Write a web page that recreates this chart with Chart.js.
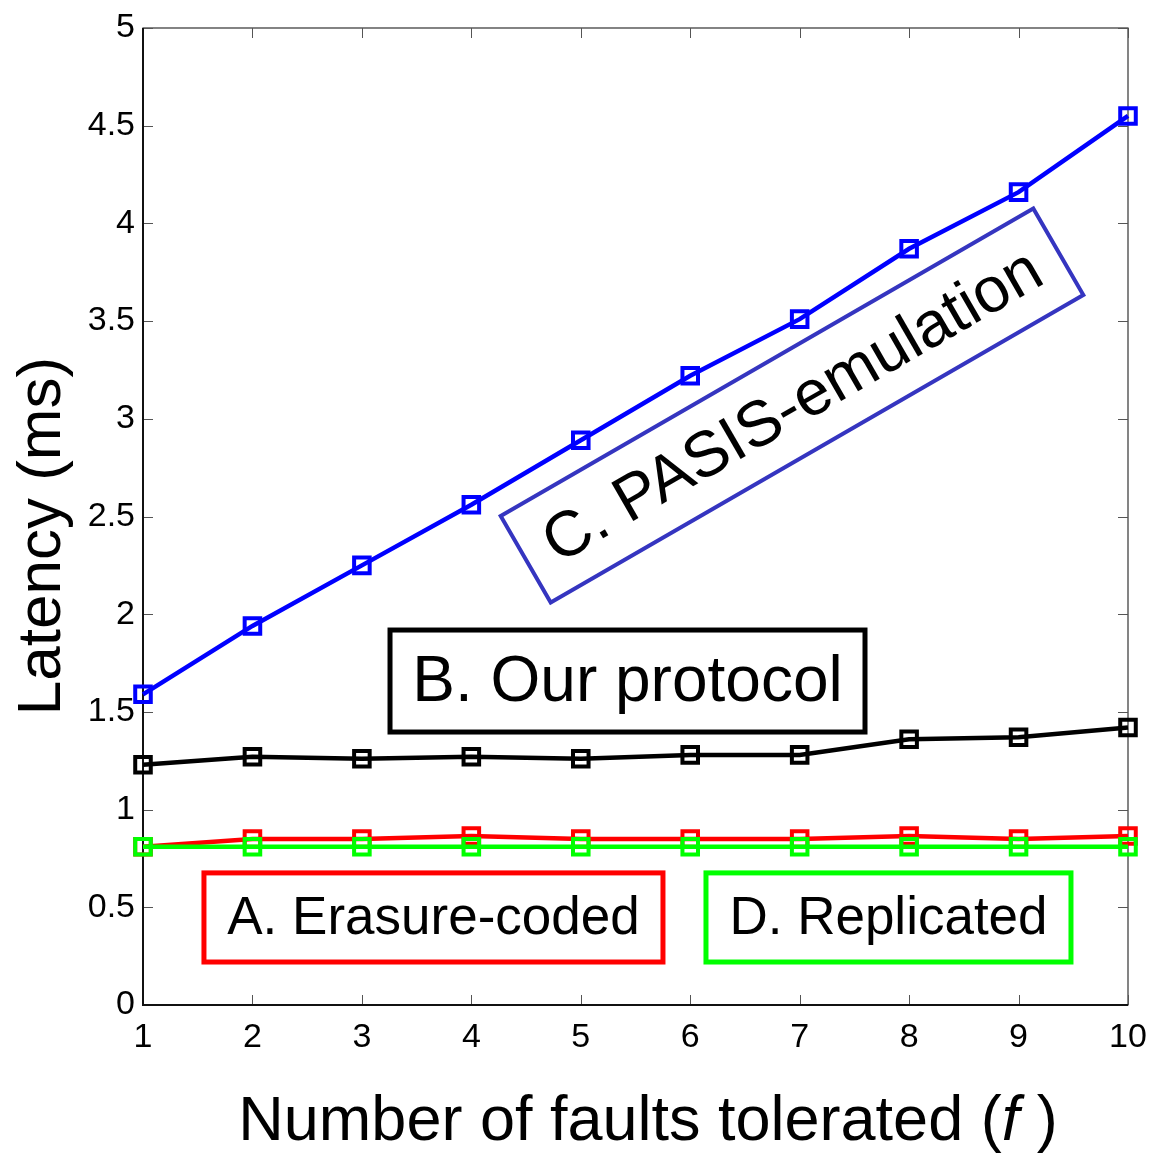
<!DOCTYPE html>
<html>
<head>
<meta charset="utf-8">
<script src="https://cdn.jsdelivr.net/npm/chart.js@4/dist/chart.umd.min.js"></script>
<style>
  html, body { margin: 0; padding: 0; background: #fff; }
  canvas { display: block; }
</style>
</head>
<body>
<canvas id="latencyChart" width="1150" height="1154"></canvas>
<script>
// number of faults tolerated (f)
const faults = [1, 2, 3, 4, 5, 6, 7, 8, 9, 10];

// latency in ms
const erasureCoded = [0.81, 0.85, 0.85, 0.865, 0.85, 0.85, 0.85, 0.865, 0.85, 0.865];
const ourProtocol  = [1.23, 1.27, 1.26, 1.27, 1.26, 1.28, 1.28, 1.36, 1.37, 1.42];
const pasis        = [1.59, 1.94, 2.25, 2.56, 2.89, 3.22, 3.51, 3.87, 4.16, 4.55];
const replicated   = [0.81, 0.81, 0.81, 0.81, 0.81, 0.81, 0.81, 0.81, 0.81, 0.81];

const yTicks = [0, 0.5, 1, 1.5, 2, 2.5, 3, 3.5, 4, 4.5, 5];

const FONT = '"Liberation Sans", Arial, Helvetica, sans-serif';

// text boxes inside the plot (placed in data units)
const boxes = [
    { text: 'B. Our protocol',  x0: 3.257, x1: 7.597, y0: 1.397, y1: 1.919, color: '#000000', size: 64 },
    { text: 'A. Erasure-coded', x0: 1.557, x1: 5.751, y0: 0.220, y1: 0.676, color: '#ff0000', size: 53 },
    { text: 'D. Replicated',    x0: 6.144, x1: 9.479, y0: 0.220, y1: 0.676, color: '#00ff00', size: 53 }
];
// the tilted one
const tiltedBox = { text: 'C. PASIS-emulation', cx: 6.93, cy: 3.068, w: 615, h: 100, angle: -30, color: '#3535c0', size: 64 };

function toPoints(values) {
    return faults.map((f, i) => ({ x: f, y: values[i] }));
}

function series(label, values, color) {
    return {
        label: label,
        data: toPoints(values),
        borderColor: color,
        borderWidth: 4.5,
        pointStyle: 'rect',
        pointRadius: 11,
        pointBorderWidth: 4,
        pointBorderColor: color,
        pointBackgroundColor: 'rgba(0,0,0,0)',
        tension: 0,
        clip: false
    };
}

// MATLAB style frame with inward ticks on all four sides
const framePlugin = {
    id: 'frame',
    beforeDatasetsDraw(chart) {
        const { ctx, chartArea: a, scales: { x, y } } = chart;
        ctx.save();
        ctx.strokeStyle = '#333';
        ctx.lineWidth = 1.2;
        ctx.strokeRect(a.left, a.top, a.right - a.left, a.bottom - a.top);
        ctx.lineWidth = 1;
        ctx.strokeStyle = '#555';
        const tl = 10;
        faults.forEach(f => {
            const px = Math.round(x.getPixelForValue(f)) + 0.5;
            ctx.beginPath();
            ctx.moveTo(px, a.bottom); ctx.lineTo(px, a.bottom - tl);
            ctx.moveTo(px, a.top); ctx.lineTo(px, a.top + tl);
            ctx.stroke();
        });
        yTicks.forEach(v => {
            const py = Math.round(y.getPixelForValue(v)) + 0.5;
            ctx.beginPath();
            ctx.moveTo(a.left, py); ctx.lineTo(a.left + tl, py);
            ctx.moveTo(a.right, py); ctx.lineTo(a.right - tl, py);
            ctx.stroke();
        });
        // darker left and bottom axis lines
        ctx.strokeStyle = '#111';
        ctx.lineWidth = 2;
        ctx.beginPath();
        ctx.moveTo(a.left, a.top); ctx.lineTo(a.left, a.bottom); ctx.lineTo(a.right, a.bottom);
        ctx.stroke();
        ctx.restore();
    }
};

const labelsPlugin = {
    id: 'labels',
    afterDraw(chart) {
        const { ctx, scales: { x, y } } = chart;
        ctx.save();
        ctx.fillStyle = '#000';

        // plain boxes
        boxes.forEach(b => {
            const l = x.getPixelForValue(b.x0), r = x.getPixelForValue(b.x1);
            const t = y.getPixelForValue(b.y1), btm = y.getPixelForValue(b.y0);
            ctx.strokeStyle = b.color;
            ctx.lineWidth = 5;
            ctx.strokeRect(l, t, r - l, btm - t);
            ctx.font = b.size + 'px ' + FONT;
            ctx.textAlign = 'center';
            ctx.textBaseline = 'middle';
            ctx.fillText(b.text, (l + r) / 2, (t + btm) / 2 + 2);
        });

        // tilted box
        const c = tiltedBox;
        ctx.save();
        ctx.translate(x.getPixelForValue(c.cx), y.getPixelForValue(c.cy));
        ctx.rotate(c.angle * Math.PI / 180);
        ctx.strokeStyle = c.color;
        ctx.lineWidth = 4;
        ctx.strokeRect(-c.w / 2, -c.h / 2, c.w, c.h);
        ctx.font = c.size + 'px ' + FONT;
        ctx.textAlign = 'center';
        ctx.textBaseline = 'middle';
        ctx.fillText(c.text, 0, 3);
        ctx.restore();

        // y axis title
        ctx.save();
        ctx.translate(60, 536);
        ctx.rotate(-Math.PI / 2);
        ctx.font = '62px ' + FONT;
        ctx.textAlign = 'center';
        ctx.textBaseline = 'alphabetic';
        ctx.fillText('Latency (ms)', 0, 0);
        ctx.restore();

        // x axis title with italic f
        const parts = [
            { t: 'Number of faults tolerated (', f: '63px ' + FONT },
            { t: 'f', f: 'italic 63px ' + FONT },
            { t: ' )', f: '63px ' + FONT }
        ];
        let total = 0;
        parts.forEach(p => { ctx.font = p.f; p.w = ctx.measureText(p.t).width; total += p.w; });
        let px = 648 - total / 2;
        ctx.textAlign = 'left';
        ctx.textBaseline = 'alphabetic';
        parts.forEach(p => { ctx.font = p.f; ctx.fillText(p.t, px, 1140); px += p.w; });

        ctx.restore();
    }
};

const ctx = document.getElementById('latencyChart').getContext('2d');
const chart = new Chart(ctx, {
    type: 'line',
    data: {
        // dataset 0 is drawn on top
        datasets: [
            series('C. PASIS-emulation', pasis, '#0000ff'),
            series('D. Replicated', replicated, '#00ff00'),
            series('B. Our protocol', ourProtocol, '#000000'),
            series('A. Erasure-coded', erasureCoded, '#ff0000')
        ]
    },
    options: {
        responsive: false,
        animation: false,
        layout: { padding: { top: 28, right: 22, left: 0, bottom: 0 } },
        plugins: {
            legend: { display: false },
            tooltip: { enabled: false }
        },
        scales: {
            x: {
                type: 'linear',
                min: 1,
                max: 10,
                grid: { display: false, drawTicks: false },
                border: { display: false },
                afterBuildTicks: s => { s.ticks = faults.map(v => ({ value: v })); },
                afterFit: s => { s.height = 149; s.paddingLeft = 0; s.paddingRight = 0; },
                ticks: {
                    color: '#000',
                    padding: 12,
                    maxRotation: 0,
                    autoSkip: false,
                    font: { family: FONT, size: 34 }
                }
            },
            y: {
                min: 0,
                max: 5,
                grid: { display: false, drawTicks: false },
                border: { display: false },
                afterBuildTicks: s => { s.ticks = yTicks.map(v => ({ value: v })); },
                afterFit: s => { s.width = 143; s.paddingTop = 0; s.paddingBottom = 0; },
                ticks: {
                    color: '#000',
                    padding: 8,
                    autoSkip: false,
                    font: { family: FONT, size: 34 },
                    callback: v => String(v)
                }
            }
        }
    },
    plugins: [framePlugin, labelsPlugin]
});
</script>
</body>
</html>
